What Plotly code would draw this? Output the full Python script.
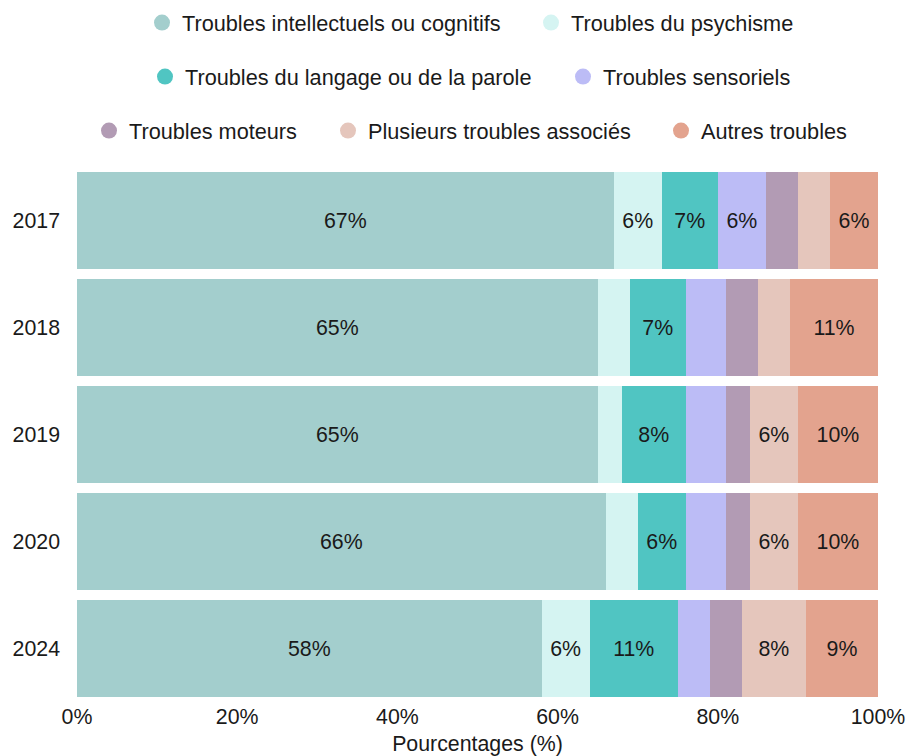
import plotly.graph_objects as go

years = ["2017", "2018", "2019", "2020", "2024"]
categories = [
    "Troubles intellectuels ou cognitifs",
    "Troubles du psychisme",
    "Troubles du langage ou de la parole",
    "Troubles sensoriels",
    "Troubles moteurs",
    "Plusieurs troubles associés",
    "Autres troubles",
]
intellectuels = [67, 65, 65, 66, 58]
psychisme = [6, 4, 3, 4, 6]
langage = [7, 7, 8, 6, 11]
sensoriels = [6, 5, 5, 5, 4]
moteurs = [4, 4, 3, 3, 4]
associes = [4, 4, 6, 6, 8]
autres = [6, 11, 10, 10, 9]
series = [intellectuels, psychisme, langage, sensoriels, moteurs, associes, autres]
colors = ["#a3cecd", "#d5f4f2", "#50c5c2", "#bcbcf6", "#b29bb4", "#e5c6bc", "#e3a38e"]
tick_values = [0, 20, 40, 60, 80, 100]
tick_labels = [f"{v}%" for v in tick_values]

FONT = "Liberation Sans, Arial, sans-serif"
FS = 21.33
LFS = 21.7
TXT = "#1a1a1a"
W, H = 909, 756
ML, MR, MT, MB = 77, 31, 167, 54
PW, PH = W - ML - MR, H - MT - MB

# legend layout in page px: (row center y, circle center x)
legend_pos = [(23, 161), (23, 550), (77, 164), (77, 582), (131, 108), (131, 347), (131, 680)]

fig = go.Figure()
for i, (name, vals, col) in enumerate(zip(categories, series, colors)):
    fig.add_trace(go.Bar(
        y=years, x=vals, orientation="h", name=name,
        marker=dict(color=col, line=dict(width=0)),
        text=[f"{v}%" if v >= 6 else "" for v in vals],
        textposition="inside", insidetextanchor="middle", textangle=0,
        textfont=dict(family=FONT, size=FS, color=TXT),
        showlegend=False, hoverinfo="x+y+name",
    ))

legends = {}
for i, (name, col) in enumerate(zip(categories, colors)):
    key = "legend" if i == 0 else f"legend{i+1}"
    fig.add_trace(go.Scatter(
        x=[None], y=[None], mode="markers", name=name,
        marker=dict(color=col, size=18, symbol="circle"),
        showlegend=True, legend=key,
    ))
    ry, cx = legend_pos[i]
    legends[key] = dict(
        orientation="h", xanchor="left", yanchor="middle",
        x=(cx - 19 - ML) / PW, y=(H - MB - ry) / PH,
        font=dict(family=FONT, size=LFS, color=TXT),
        bgcolor="rgba(0,0,0,0)", borderwidth=0,
    )

fig.update_layout(
    barmode="stack", bargap=0.095,
    width=W, height=H,
    margin=dict(l=ML, r=MR, t=MT, b=MB, pad=0, autoexpand=False),
    paper_bgcolor="white", plot_bgcolor="white",
    font=dict(family=FONT, size=FS, color=TXT),
    xaxis=dict(range=[0, 100], tickmode="array", tickvals=tick_values, ticktext=tick_labels,
               showgrid=False, zeroline=False, showline=False, ticks="",
               tickfont=dict(family=FONT, size=FS, color=TXT),
               title=dict(text="Pourcentages (%)", font=dict(family=FONT, size=FS, color=TXT), standoff=8)),
    yaxis=dict(type="category", autorange="reversed", showgrid=False, zeroline=False,
               showline=False, ticks="", ticklabelstandoff=16,
               tickfont=dict(family=FONT, size=FS, color=TXT)),
    **legends,
)

fig.write_html(
    "out.html",
    config={"displayModeBar": False},
    post_script="document.body.style.margin='0';document.body.style.overflow='hidden';",
)
